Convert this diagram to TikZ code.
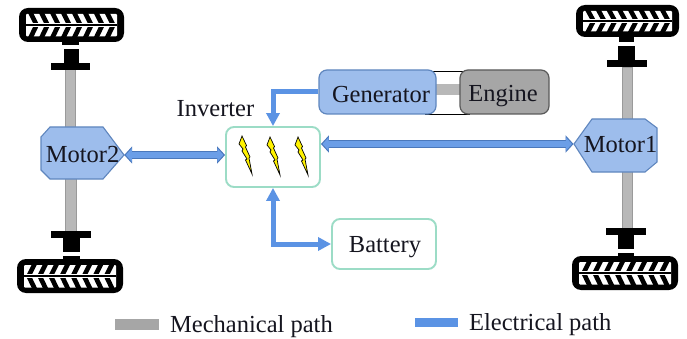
\documentclass[tikz,border=0pt]{standalone}
\usepackage{fontspec}
\setmainfont{Liberation Serif}
\usetikzlibrary{arrows.meta}
\definecolor{elec}{HTML}{5B93E4}
\definecolor{elecedge}{HTML}{4A78BC}
\definecolor{motorfill}{HTML}{9DBDEC}
\definecolor{motoredge}{HTML}{5F86BE}
\definecolor{boxgreen}{HTML}{9CDCC6}
\definecolor{shaftfill}{HTML}{B8B8B8}
\definecolor{shaftedge}{HTML}{9A9A9A}
\definecolor{enginefill}{HTML}{A6A6A6}
\definecolor{engineedge}{HTML}{5A5A5A}
\definecolor{inktext}{HTML}{15151F}
\tikzset{
  lbl/.style={font=\fontsize{24.5pt}{26pt}\selectfont,text=inktext,inner sep=0pt},
  greenbox/.style={draw=boxgreen,line width=1.9pt,rounded corners=8pt,fill=white,inner sep=0pt},
  genbox/.style={draw=motoredge,line width=1.2pt,fill=motorfill,rounded corners=8pt,inner sep=0pt},
  engbox/.style={draw=engineedge,line width=1.2pt,fill=enginefill,rounded corners=8pt,inner sep=0pt},
  motorhull/.style={draw=motoredge,line width=1.1pt,fill=motorfill},
  shaftbar/.style={draw=shaftedge,line width=0.8pt,fill=shaftfill},
  elecline/.style={draw=elec,line width=5pt},
  elechead/.style={-{Triangle[length=13pt,width=13pt]}},
  elecheads/.style={{Triangle[length=13pt,width=13pt]}-{Triangle[length=13pt,width=13pt]}},
  blockouter/.style={draw=elecedge,line width=8pt,{Triangle[length=8pt,width=17pt]}-{Triangle[length=8pt,width=17pt]}},
  blockinner/.style={draw=elec!90!white,line width=5.6pt,shorten <=1.6pt,shorten >=1.6pt,{Triangle[length=6pt,width=13pt]}-{Triangle[length=6pt,width=13pt]}},
  bolt/.style={draw=black,line width=0.7pt,fill=yellow,line join=miter},
}
% tire: x1 y1 x2 y2 of the outer shape, direction (+1 right-pointing, -1 left-pointing)
\newcommand{\tirewheel}[5]{%
  \fill[black,rounded corners=9pt] (#1,#2) rectangle (#3,#4);
  \fill[white,rounded corners=1pt] (#1+7,#2+6) rectangle (#3-7,#4-5.5);
  \begin{scope}
    \clip (#1+7,#2+6) rectangle (#3-7,#4-5.5);
    \pgfmathsetmacro{\ym}{(#2+#4)/2}
    \foreach \k in {0,...,7}{
      \pgfmathsetmacro{\xa}{#1+9+(1-#5)*3+\k*(#3-#1-24)/7.4}
      \fill[black] (\xa,#2+5) -- (\xa+5.2,#2+5) -- (\xa+5.2+#5*6,\ym) -- (\xa+#5*6,\ym) -- cycle;
      \fill[black] (\xa,#4-4.5) -- (\xa+5.2,#4-4.5) -- (\xa+5.2+#5*6,\ym) -- (\xa+#5*6,\ym) -- cycle;
    }
    \fill[white] (#1+7,\ym-1.9) rectangle (#3-7,\ym+1.9);
    \fill[black] (#1+7,\ym-1.2) rectangle (#3-7,\ym+1.2);
  \end{scope}
}
\begin{document}
\begin{tikzpicture}[x=1pt,y=-1pt]
\useasboundingbox (0,0) rectangle (687,339);
\fill[white] (0,0) rectangle (687,339);

% shafts
\draw[shaftbar] (65,69) rectangle (75.5,128);
\draw[shaftbar] (65.5,178) rectangle (76,232);
\draw[shaftbar] (622,67) rectangle (632,120);
\draw[shaftbar] (622,171) rectangle (632,229);

% top-left wheel
\tirewheel{19}{8}{124}{42}{1}
\fill[black] (62,42) rectangle (79,45);
\fill[black] (64,49) rectangle (79,63);
\fill[black] (51,63) rectangle (90,70);
% bottom-left wheel
\tirewheel{17}{259}{123}{293}{-1}
\fill[black] (63,256) rectangle (80,260);
\fill[black] (63,238) rectangle (80,252);
\fill[black] (51,231) rectangle (91,238);
% top-right wheel
\tirewheel{576}{5}{679}{37}{1}
\fill[black] (619,37) rectangle (634,42);
\fill[black] (618,46) rectangle (635,60);
\fill[black] (607,60) rectangle (647,67);
% bottom-right wheel
\tirewheel{572}{256}{678}{290}{-1}
\fill[black] (618,253) rectangle (634,257);
\fill[black] (618,235) rectangle (634,249);
\fill[black] (606,228) rectangle (646,235);

% motor outlines
\path[motorhull] (50,127) -- (103,127) -- (124,155) -- (103,179) -- (50,179) -- (41,170) -- (41,137) -- cycle;
\path[motorhull] (592,119) -- (645,119) -- (657,128) -- (657,162) -- (645,172) -- (592,172) -- (574,144) -- cycle;
\node[lbl,minimum width=83pt,minimum height=48pt] (m2) at (82.5,155) {\raisebox{-7pt}[0pt][0pt]{Motor2}};
\node[lbl,minimum width=83pt,minimum height=56pt] (m1) at (615.5,144) {\hspace*{10pt}\raisebox{-9pt}[0pt][0pt]{Motor1}};

% inverter, battery
\node[greenbox,minimum width=94pt,minimum height=60pt] (inv) at (273,157) {};
\node[greenbox,minimum width=104pt,minimum height=50pt] (bat) at (384,244) {};
\node[lbl] (battxt) at (385,247) {Battery};
\node[lbl] (invtxt) at (215.5,109) {Inverter};

% bolts
\foreach \px/\py in {242/136,270/137,298/137}{
  \draw[bolt,shift={(\px,\py)}] (0,0) -- (-3,8) -- (1,13) -- (0,15) -- (5,23) -- (3.5,24) -- (10,38) -- (7,22) -- (8,21) -- (3.5,11) -- (4.5,9.5) -- cycle;
}

% generator and engine
\coordinate (lnA) at (425,71);
\coordinate (lnB) at (470,71);
\coordinate (lnC) at (425,114);
\coordinate (lnD) at (470,114);
\draw[black,line width=0.8pt] (lnA) -- (lnB) (lnC) -- (lnD);
\fill[shaftfill] (434,84) rectangle (462,95);
\node[genbox,minimum width=117pt,minimum height=44pt] (gen) at (377.5,92) {};
\node[lbl] (gentxt) at (381,95) {Generator};
\node[engbox,minimum width=89pt,minimum height=44pt] (eng) at (504.5,92) {};
\node[lbl] (engtxt) at (503,96) {Engine};

% electrical connectors
\coordinate (genbend) at (inv.north |- gen.west);
\coordinate (batbend) at (inv.south |- bat.west);
\draw[elecline,elechead] (gen.west) -- (genbend) -- (inv.north);
\draw[elecline,elecheads,line join=miter] (inv.south) -- (batbend) -- (bat.west);
\draw[blockouter] (m2.east) -- (inv.west |- m2.east);
\draw[blockinner] (m2.east) -- (inv.west |- m2.east);
\draw[blockouter] (inv.east |- m1.west) -- (m1.west);
\draw[blockinner] (inv.east |- m1.west) -- (m1.west);

% legend
\node[fill=enginefill,minimum width=44pt,minimum height=11pt,inner sep=0pt] (keyM) at (137,324.5) {};
\node[fill=elec,minimum width=43pt,minimum height=9pt,inner sep=0pt] (keyE) at (436.5,322.5) {};
\node[lbl,anchor=west] (keyMt) at (170,327) {Mechanical path};
\node[lbl,anchor=west] (keyEt) at (469,325) {Electrical path};
\end{tikzpicture}
\end{document}
